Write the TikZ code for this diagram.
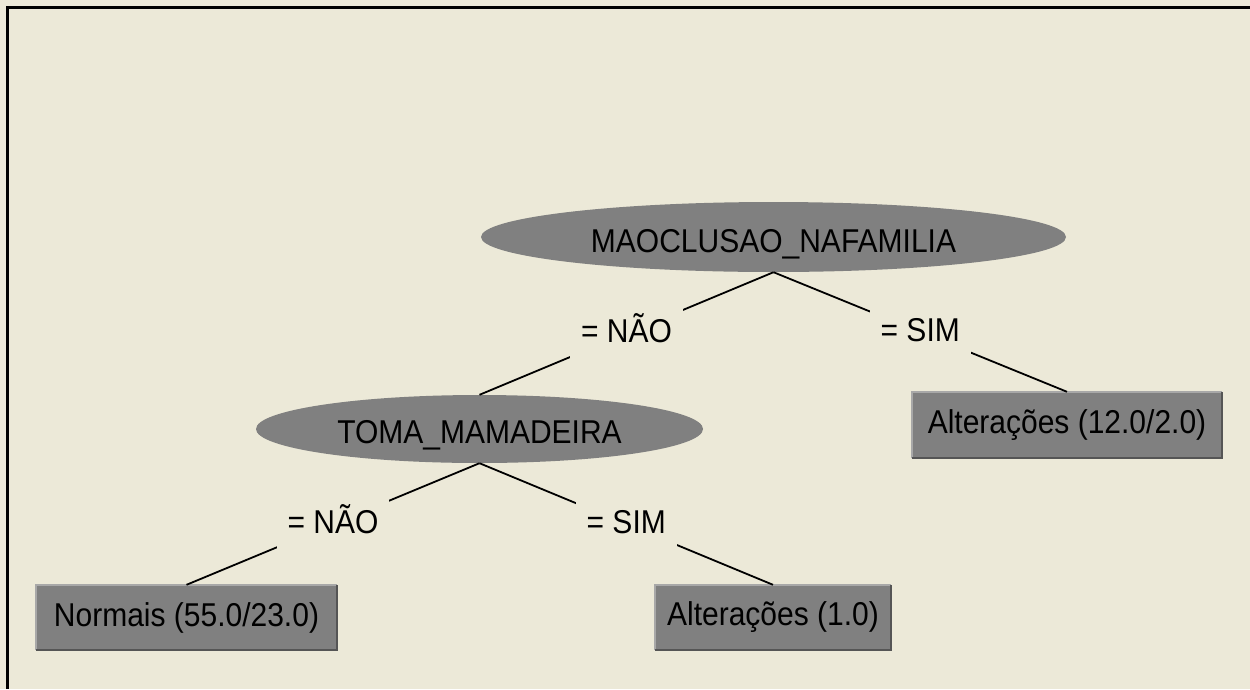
\documentclass[tikz,border=0pt]{standalone}
\usepackage{fontspec}
\usepackage{graphicx}
\setmainfont{Liberation Sans}
\usetikzlibrary{shapes.geometric}
\definecolor{bg}{HTML}{ECE9D8}
\definecolor{nodegray}{HTML}{808080}
\definecolor{bevlight}{HTML}{A8A8A8}
\definecolor{bevdark}{HTML}{555555}
\newcommand{\tallt}[1]{\scalebox{1}[1.1]{#1}}
\tikzset{
  txt/.style={font=\fontsize{30}{36}\selectfont, text=black},
  splitnode/.style={txt, ellipse, fill=nodegray, inner sep=0pt, text depth=0pt},
  leafnode/.style={txt, rectangle, fill=nodegray, inner sep=0pt},
  edge/.style={line width=1.8pt, black},
  lab/.style={txt, fill=bg, inner xsep=11pt, inner ysep=12pt, text height=26pt, text depth=8pt},
  lightedge/.style={line width=1.5pt, bevlight},
  darkedge/.style={line width=1.5pt, bevdark}
}
\begin{document}
\begin{tikzpicture}[x=1pt,y=-1pt]
\useasboundingbox (0,0) rectangle (1250,689);
\fill[bg] (0,0) rectangle (1250,689);
\draw[line width=2.5pt] (7.5,689) -- (7.5,7.5) -- (1250,7.5);

\node[splitnode, minimum width=585pt, minimum height=70pt, text height=30pt] (root) at (773.5,237) {\tallt{MAOCLUSAO\_NAFAMILIA}};
\node[splitnode, minimum width=447pt, minimum height=68pt, text height=28pt] (toma) at (479.5,429) {\tallt{TOMA\_MAMADEIRA}};
\node[leafnode, minimum width=310pt, minimum height=66pt] (altA) at (1067,425) {\tallt{Alterações (12.0/2.0)}};
\node[leafnode, minimum width=301pt, minimum height=65pt] (norm) at (186.5,617.5) {\tallt{Normais (55.0/23.0)}};
\node[leafnode, minimum width=236pt, minimum height=65pt] (altB) at (773,617.5) {\tallt{Alterações (1.0)}};

\foreach \n in {altA,norm,altB}{
  \draw[lightedge] (\n.south west) -- (\n.north west) -- (\n.north east);
  \draw[darkedge] (\n.north east) -- (\n.south east) -- (\n.south west);
}

\draw[edge] (root.south) -- (toma.north) node[midway, lab] {\tallt{= NÃO}};
\draw[edge] (root.south) -- (altA.north) node[midway, lab] {\tallt{= SIM}};
\draw[edge] (toma.south) -- (norm.north) node[midway, lab] {\tallt{= NÃO}};
\draw[edge] (toma.south) -- (altB.north) node[midway, lab] {\tallt{= SIM}};
\end{tikzpicture}
\end{document}
